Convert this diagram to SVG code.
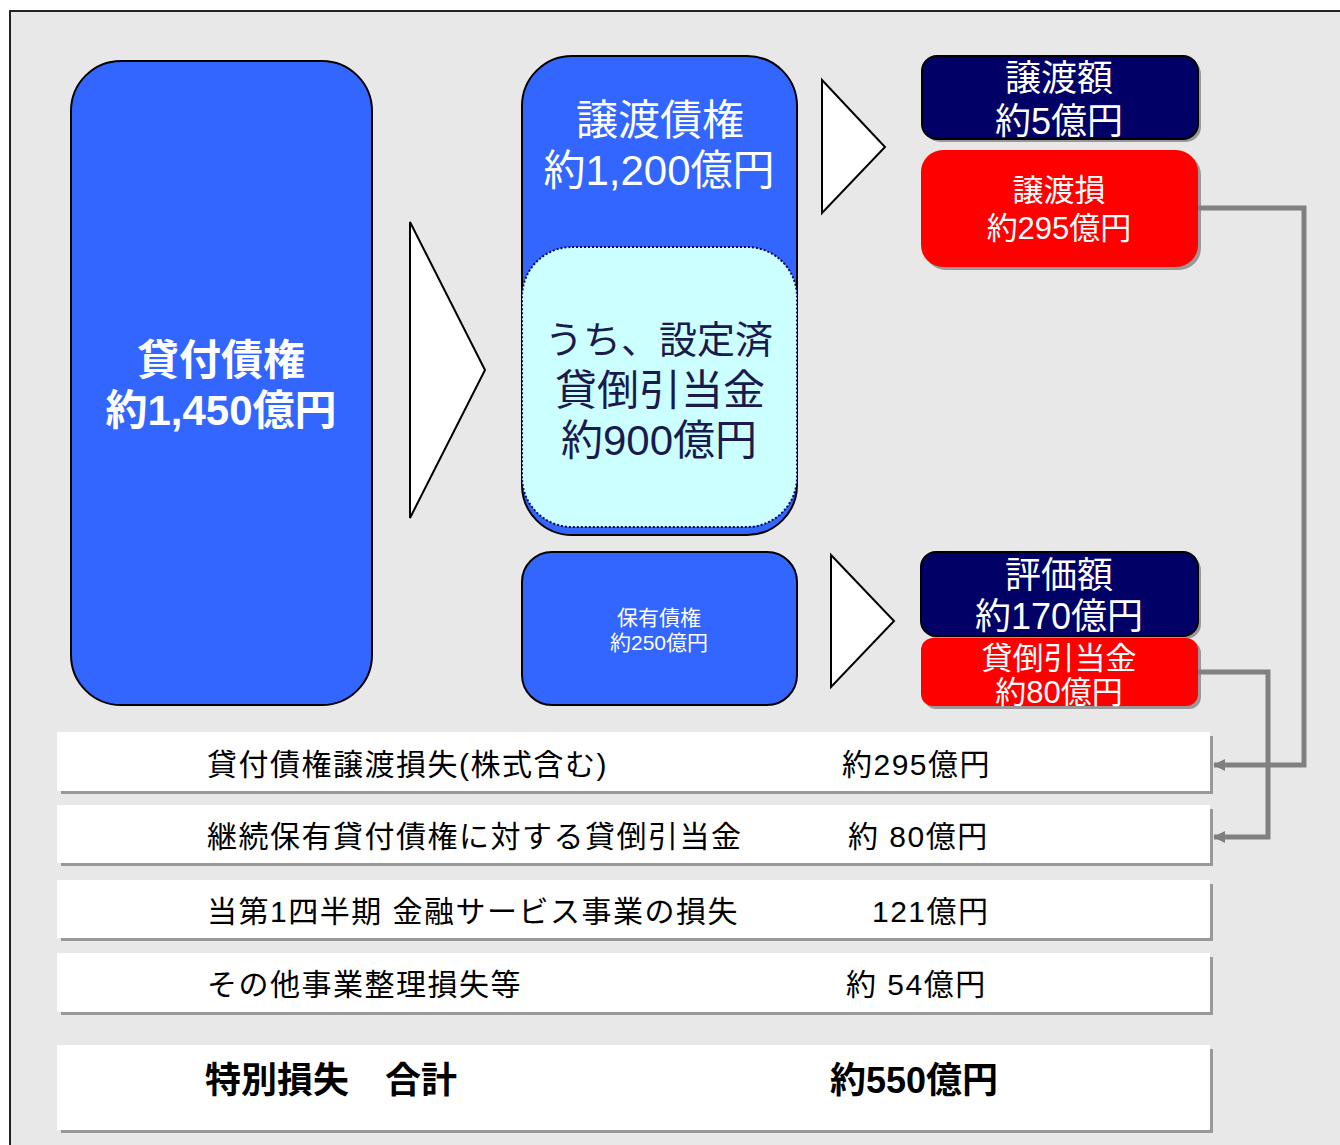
<svg xmlns="http://www.w3.org/2000/svg" width="1340" height="1145" viewBox="0 0 1340 1145">
<defs>
<marker id="arr" markerWidth="14" markerHeight="14" refX="11" refY="6" orient="auto" markerUnits="userSpaceOnUse"><path d="M0,0 L12,6 L0,12 Z" fill="#808080"/></marker>
<style>
text{font-family:"Liberation Sans","Noto Sans CJK JP",sans-serif;dominant-baseline:central}
.w{fill:#fff;text-anchor:middle}
.blue{fill:#3366ff;stroke:#000;stroke-width:2}
.tri{fill:#fff;stroke:#000;stroke-width:2}
.navy{fill:#000066;stroke:#000;stroke-width:2}
.red{fill:#ff0000}
.sh{fill:#999}
.row{fill:#fff}
.rt{fill:#000;font-size:30px;letter-spacing:1.5px}
.bt{fill:#000;font-size:36px;font-weight:bold}
.conn{fill:none;stroke:#808080;stroke-width:5}
.cy{fill:#1a1a4d;text-anchor:middle}
</style>
</defs>
<rect x="10" y="11" width="1340" height="1140" fill="#e8e8e8" stroke="#222" stroke-width="2"/>

<g id="loans">
<rect class="blue" x="71" y="61" width="301" height="644" rx="50"/>
<text class="w" x="221" y="360" font-size="42" font-weight="bold">貸付債権</text>
<text class="w" x="221" y="410" font-size="42" font-weight="bold">約1,450億円</text>
</g>

<g id="arrow-big"><polygon class="tri" points="410,222 485,370 410,518"/></g>

<g id="transferred">
<rect class="blue" x="522" y="56" width="275" height="479" rx="50"/>
<text class="w" x="660" y="120" font-size="42">譲渡債権</text>
<text class="w" x="659" y="170" font-size="42">約1,200億円</text>
</g>

<g id="provision-set">
<rect x="522" y="247" width="275" height="280" rx="50" fill="#ccffff" stroke="#000066" stroke-width="2" stroke-dasharray="2,2"/>
<text class="cy" x="659" y="340" font-size="38">うち、設定済</text>
<text class="cy" x="660" y="390" font-size="42">貸倒引当金</text>
<text class="cy" x="659" y="440" font-size="42">約900億円</text>
</g>

<g id="arrow-top"><polygon class="tri" points="822,80 885,147 822,213"/></g>

<g id="transfer-amount">
<rect class="sh" x="925" y="59" width="276" height="83" rx="15"/>
<rect class="navy" x="922" y="56" width="276" height="83" rx="15"/>
<text class="w" x="1059" y="78" font-size="36">譲渡額</text>
<text class="w" x="1059" y="121" font-size="36">約5億円</text>
</g>

<g id="transfer-loss">
<rect class="sh" x="924" y="153" width="277" height="117" rx="22"/>
<rect class="red" x="921" y="150" width="277" height="117" rx="22"/>
<text class="w" x="1059" y="190" font-size="31">譲渡損</text>
<text class="w" x="1059" y="228" font-size="31">約295億円</text>
</g>

<g id="held">
<rect class="blue" x="522" y="552" width="275" height="153" rx="30"/>
<text class="w" x="659" y="617" font-size="21">保有債権</text>
<text class="w" x="659" y="642" font-size="21">約250億円</text>
</g>

<g id="arrow-bottom"><polygon class="tri" points="831,555 894,621 831,687"/></g>

<g id="valuation">
<rect class="sh" x="924" y="555" width="277" height="84" rx="15"/>
<rect class="navy" x="921" y="552" width="277" height="84" rx="15"/>
<text class="w" x="1059" y="575" font-size="36">評価額</text>
<text class="w" x="1059" y="616" font-size="36">約170億円</text>
</g>

<g id="allowance">
<rect class="sh" x="924" y="641" width="277" height="68" rx="12"/>
<rect class="red" x="921" y="638" width="277" height="68" rx="12"/>
<text class="w" x="1059" y="658" font-size="31">貸倒引当金</text>
<text class="w" x="1059" y="692" font-size="31">約80億円</text>
</g>

<g id="row1">
<rect class="sh" x="61" y="736" width="1152" height="58"/>
<rect class="row" x="57" y="732" width="1153" height="59"/>
<text class="rt" x="207" y="764">貸付債権譲渡損失(株式含む)</text>
<text class="rt" x="842" y="764">約295億円</text>
</g>
<g id="row2">
<rect class="sh" x="61" y="809" width="1152" height="57"/>
<rect class="row" x="57" y="805" width="1153" height="58"/>
<text class="rt" x="207" y="836">継続保有貸付債権に対する貸倒引当金</text>
<text class="rt" x="848" y="836">約 80億円</text>
</g>
<g id="row3">
<rect class="sh" x="61" y="884" width="1152" height="57"/>
<rect class="row" x="57" y="880" width="1153" height="58"/>
<text class="rt" x="207" y="911">当第1四半期 金融サービス事業の損失</text>
<text class="rt" x="872" y="911">121億円</text>
</g>
<g id="row4">
<rect class="sh" x="61" y="957" width="1152" height="58"/>
<rect class="row" x="57" y="953" width="1153" height="59"/>
<text class="rt" x="207" y="984">その他事業整理損失等</text>
<text class="rt" x="846" y="984">約 54億円</text>
</g>
<g id="total">
<rect class="sh" x="61" y="1049" width="1152" height="84"/>
<rect class="row" x="57" y="1045" width="1153" height="85"/>
<text class="bt" x="205" y="1080">特別損失　合計</text>
<text class="bt" x="830" y="1080">約550億円</text>
</g>

<g id="connectors">
<polyline class="conn" points="1198,208 1304,208 1304,765 1214,765" marker-end="url(#arr)"/>
<polyline class="conn" points="1198,672 1268,672 1268,837 1214,837" marker-end="url(#arr)"/>
</g>
</svg>
